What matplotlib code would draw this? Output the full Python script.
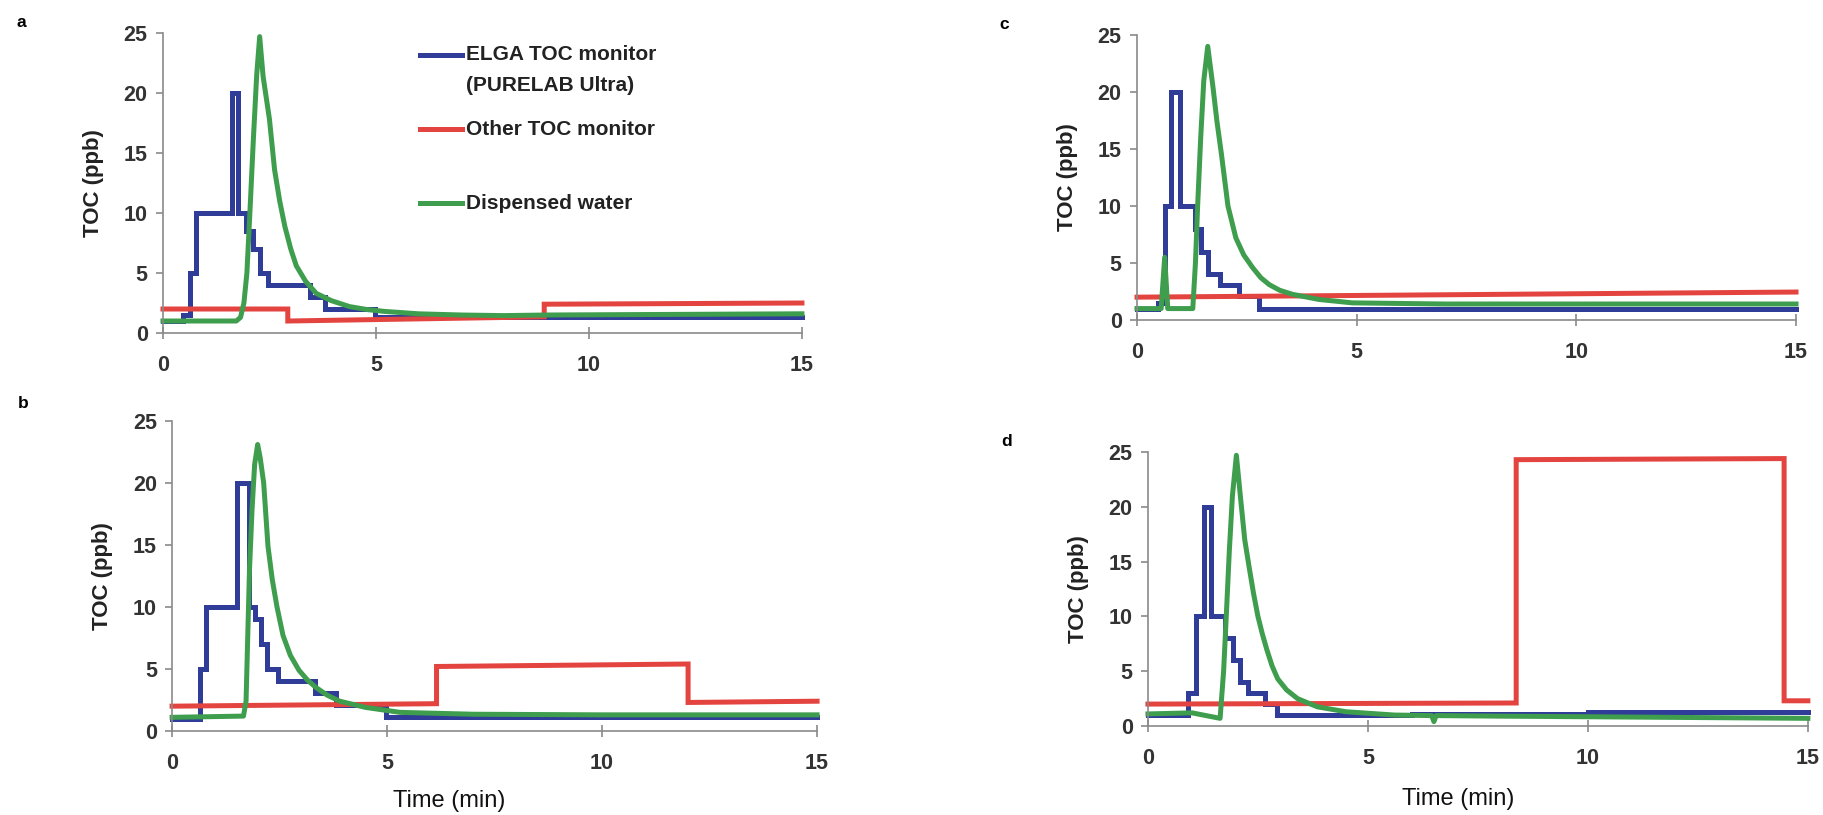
import matplotlib.pyplot as plt
from matplotlib import font_manager

# ---- data (time in min, TOC in ppb) ----
# ELGA monitor is a step trace: value holds from t[i] until t[i+1]
a_elga_t = [0, 0.47, 0.63, 0.78, 1.62, 1.76, 1.96, 2.11, 2.27, 2.46, 3.44, 3.8, 4.97, 15]
a_elga_v = [1.0, 1.5, 5, 10, 20, 10, 8.5, 7, 5, 4, 3, 2, 1.35, 1.35]
a_other_t = [0, 2.93, 2.93, 8.95, 8.95, 15]
a_other_v = [2.0, 2.0, 1.0, 1.35, 2.4, 2.5]
a_water_t = [0, 1.72, 1.82, 1.9, 1.97, 2.04, 2.12, 2.2, 2.27, 2.35, 2.5, 2.62, 2.74, 2.86,
             3.0, 3.13, 3.35, 3.6, 3.95, 4.38, 4.8, 5.2, 6.0, 7.0, 8.0, 9.0, 12.0, 15.0]
a_water_v = [1.0, 1.0, 1.3, 2.5, 5.0, 10.0, 16.0, 21.5, 24.7, 21.4, 17.8, 13.6, 11.0, 8.9,
             7.0, 5.6, 4.3, 3.3, 2.7, 2.2, 1.95, 1.8, 1.6, 1.5, 1.45, 1.5, 1.55, 1.6]

b_elga_t = [0, 0.64, 0.79, 1.5, 1.78, 1.92, 2.07, 2.2, 2.46, 3.32, 3.82, 4.98, 15]
b_elga_v = [1.0, 5, 10, 20, 10, 9, 7, 5, 4, 3.1, 2.1, 1.1, 1.1]
b_other_t = [0, 6.15, 6.15, 12.0, 12.0, 15]
b_other_v = [2.0, 2.2, 5.2, 5.4, 2.3, 2.4]
b_water_t = [0, 1.66, 1.72, 1.76, 1.8, 1.86, 1.92, 1.99, 2.05, 2.13, 2.23, 2.33, 2.44, 2.58,
             2.75, 2.95, 3.15, 3.35, 3.6, 3.9, 4.5, 5.3, 7, 10, 15]
b_water_v = [1.1, 1.2, 2.4, 7.7, 13, 17.9, 21.5, 23.1, 22, 20, 14.9, 12.2, 10, 7.7,
             6.1, 4.9, 4.1, 3.5, 2.9, 2.4, 1.9, 1.5, 1.35, 1.3, 1.3]

c_elga_t = [0, 0.48, 0.63, 0.78, 0.97, 1.31, 1.46, 1.61, 1.88, 2.33, 2.78, 15]
c_elga_v = [1.0, 1.5, 10, 20, 10, 8, 6, 4, 3.1, 2.1, 1.0, 1.0]
c_other_t = [0, 15]
c_other_v = [2.0, 2.45]
c_water_t = [0, 0.55, 0.63, 0.7, 1.27, 1.33, 1.38, 1.45, 1.52, 1.61, 1.73, 1.82, 1.92, 2.07,
             2.25, 2.43, 2.63, 2.82, 3.01, 3.25, 3.54, 4.14, 4.9, 7, 15]
c_water_v = [1.0, 1.0, 5.5, 1.0, 1.0, 5, 10, 16, 21, 24, 20.4, 17.4, 14.6, 10,
             7.2, 5.7, 4.6, 3.7, 3.1, 2.6, 2.25, 1.8, 1.5, 1.4, 1.4]

d_elga_t = [0, 0.91, 1.1, 1.27, 1.43, 1.75, 1.94, 2.09, 2.28, 2.66, 2.93, 6, 10, 15]
d_elga_v = [1.0, 3, 10, 20, 10, 8, 6, 4, 3, 2, 1.0, 1.1, 1.25, 1.3]
d_other_t = [0, 8.37, 8.37, 14.46, 14.46, 15]
d_other_v = [2.0, 2.1, 24.3, 24.4, 2.3, 2.3]
d_water_t = [0, 1.0, 1.64, 1.72, 1.78, 1.85, 1.92, 2.01, 2.1, 2.2, 2.3, 2.4, 2.5, 2.6, 2.7,
             2.82, 2.95, 3.15, 3.4, 3.85, 4.5, 5.6, 6.45, 6.5, 6.55, 8, 15]
d_water_v = [1.1, 1.2, 0.7, 5, 10, 16, 21, 24.7, 21, 17, 14.5, 12.1, 10, 8.4, 7,
             5.5, 4.3, 3.3, 2.5, 1.75, 1.3, 1.0, 0.95, 0.4, 0.95, 0.9, 0.7]

x_ticks = [0, 5, 10, 15]
y_ticks = [0, 5, 10, 15, 20, 25]
legend_labels = ["ELGA TOC monitor\n(PURELAB Ultra)", "Other TOC monitor", "Dispensed water"]

BLUE = "#2f3c98"
RED = "#e4443f"
GREEN = "#3f9d4e"
AXIS = "#8a8a8a"
LW = 3.6

installed = {f.name for f in font_manager.fontManager.ttflist}
NARROW = "Liberation Sans Narrow" if "Liberation Sans Narrow" in installed else "Liberation Sans"
BOLD = "Liberation Sans"

fig = plt.figure(figsize=(18.23, 8.15), dpi=100)

# axes rectangles in figure fraction: left, bottom, width, height
panels = {
    "a": ([0.0894, 0.5914, 0.3505, 0.3681], a_elga_t, a_elga_v, a_other_t, a_other_v, a_water_t, a_water_v),
    "b": ([0.0944, 0.1031, 0.3538, 0.3804], b_elga_t, b_elga_v, b_other_t, b_other_v, b_water_t, b_water_v),
    "c": ([0.6237, 0.6074, 0.3615, 0.3497], c_elga_t, c_elga_v, c_other_t, c_other_v, c_water_t, c_water_v),
    "d": ([0.6297, 0.1092, 0.3620, 0.3362], d_elga_t, d_elga_v, d_other_t, d_other_v, d_water_t, d_water_v),
}
letter_pos = {"a": (0.009, 0.972), "b": (0.010, 0.505), "c": (0.548, 0.970), "d": (0.549, 0.458)}
xlabel_pos = {"b": (0.43, -0.19), "d": (0.47, -0.225)}

axes = {}
for key, (rect, et, ev, ot, ov, wt, wv) in panels.items():
    ax = fig.add_axes(rect)
    ax.plot(et, ev, color=BLUE, lw=LW, drawstyle="steps-post", solid_joinstyle="miter", clip_on=False)
    ax.plot(ot, ov, color=RED, lw=LW, solid_joinstyle="miter", clip_on=False)
    ax.plot(wt, wv, color=GREEN, lw=LW, clip_on=False)

    ax.set_xlim(0, 15)
    ax.set_ylim(0, 25)
    ax.set_xticks(x_ticks)
    ax.set_yticks(y_ticks)
    for side in ("top", "right"):
        ax.spines[side].set_visible(False)
    for side in ("left", "bottom"):
        ax.spines[side].set_color(AXIS)
        ax.spines[side].set_linewidth(1.2)
    ax.tick_params(axis="y", direction="out", length=5, width=1.2, color=AXIS, pad=6)
    ax.tick_params(axis="x", direction="inout", length=8, width=1.2, color=AXIS, pad=12)
    for lab in ax.get_xticklabels() + ax.get_yticklabels():
        lab.set_fontfamily(NARROW)
        lab.set_fontweight("bold")
        lab.set_fontsize(15.5)
        lab.set_color("#333333")
    ax.set_ylabel("TOC (ppb)", fontsize=16, fontweight="bold", family=BOLD, color="#222222", labelpad=14)
    if key in xlabel_pos:
        ax.set_xlabel("Time (min)", fontsize=17, family=NARROW, color="#111111")
        ax.xaxis.set_label_coords(*xlabel_pos[key])
    fig.text(*letter_pos[key], key, fontsize=12.5, fontweight="bold", family=BOLD, va="center")
    axes[key] = ax

# legend of panel a, drawn by hand to keep the uneven spacing
ax = axes["a"]
for color, label, yf in zip([BLUE, RED, GREEN], legend_labels, [0.928, 0.68, 0.432]):
    ax.plot([0.402, 0.468], [yf, yf], transform=ax.transAxes, color=color, lw=LW, clip_on=False)
    lines = label.split("\n")
    for i, line in enumerate(lines):
        ax.text(0.474, yf - 0.104 * i, line, transform=ax.transAxes, fontsize=15,
                fontweight="bold", family=BOLD, va="center", color="#222222")

fig.savefig("out.png", dpi=100)
